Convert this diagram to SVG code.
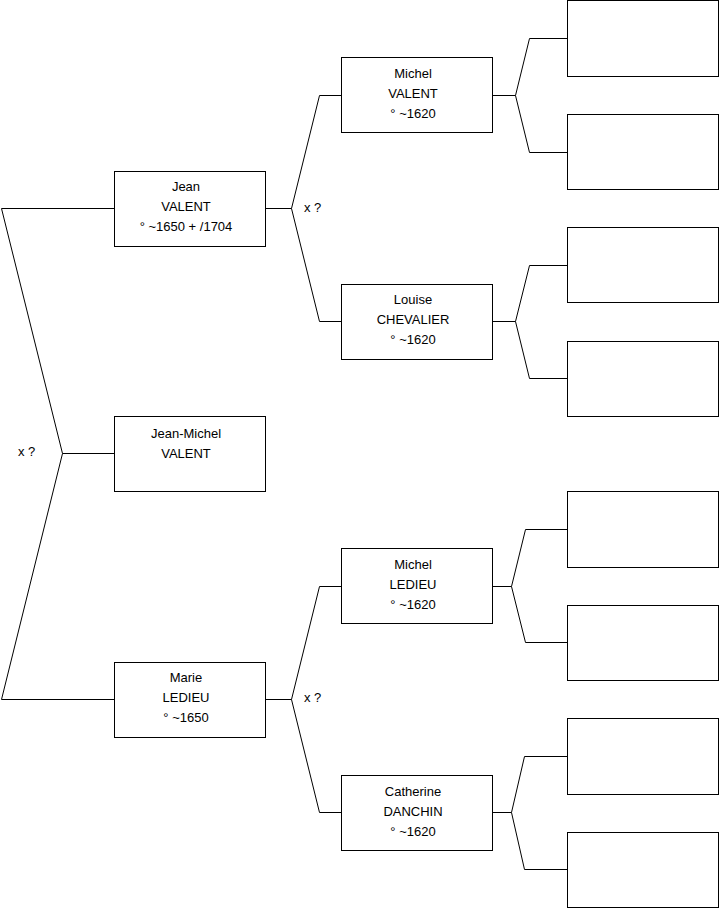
<svg xmlns="http://www.w3.org/2000/svg" width="719" height="908" viewBox="0 0 719 908">
<style>
.box{fill:#fff;stroke:#000;stroke-width:1}
.ln{fill:none;stroke:#000;stroke-width:1}
text{font-family:"Liberation Sans",Arial,sans-serif;font-size:13px;fill:#000}
.c{text-anchor:middle}
</style>
<rect width="719" height="908" fill="#fff"/>
<g id="connectors">
<path class="ln" d="M114.5,208.5 H1.5 L62.5,453.5 L1.5,699.5 H114.5 M62.5,453.5 H114.5"/>
<path class="ln" d="M265.5,208.5 H291.5 M341.5,95.5 H319.5 L291.5,208.5 L319.5,321.5 H341.5"/>
<path class="ln" d="M265.5,699.5 H291.5 M341.5,586.5 H319.5 L291.5,699.5 L319.5,812.5 H341.5"/>
<path class="ln" d="M492.5,95.5 H515.5 M567.5,38.5 H529.5 L515.5,95.5 L529.5,152.5 H567.5"/>
<path class="ln" d="M492.5,321.5 H515.5 M567.5,265.5 H529.5 L515.5,321.5 L529.5,378.5 H567.5"/>
<path class="ln" d="M492.5,586.5 H511.5 M567.5,529.5 H525.5 L511.5,586.5 L525.5,642.5 H567.5"/>
<path class="ln" d="M492.5,812.5 H511.5 M567.5,756.5 H524.5 L511.5,812.5 L524.5,869.5 H567.5"/>
<text x="18" y="456">x ?</text>
<text x="304" y="212">x ?</text>
<text x="304" y="702">x ?</text>
</g>
<g id="jean"><rect class="box" x="114.5" y="171.5" width="151" height="75"/>
<text class="c" x="186" y="191">Jean</text><text class="c" x="186" y="211">VALENT</text><text class="c" x="186" y="231">° ~1650 + /1704</text></g>
<g id="jean-michel"><rect class="box" x="114.5" y="416.5" width="151" height="75"/>
<text class="c" x="186" y="438">Jean-Michel</text><text class="c" x="186" y="458">VALENT</text></g>
<g id="marie"><rect class="box" x="114.5" y="662.5" width="151" height="75"/>
<text class="c" x="186" y="682">Marie</text><text class="c" x="186" y="702">LEDIEU</text><text class="c" x="186" y="722">° ~1650</text></g>
<g id="michel-valent"><rect class="box" x="341.5" y="57.5" width="151" height="75"/>
<text class="c" x="413" y="78">Michel</text><text class="c" x="413" y="98">VALENT</text><text class="c" x="413" y="118">° ~1620</text></g>
<g id="louise"><rect class="box" x="341.5" y="284.5" width="151" height="75"/>
<text class="c" x="413" y="304">Louise</text><text class="c" x="413" y="324">CHEVALIER</text><text class="c" x="413" y="344">° ~1620</text></g>
<g id="michel-ledieu"><rect class="box" x="341.5" y="548.5" width="151" height="75"/>
<text class="c" x="413" y="569">Michel</text><text class="c" x="413" y="589">LEDIEU</text><text class="c" x="413" y="609">° ~1620</text></g>
<g id="catherine"><rect class="box" x="341.5" y="775.5" width="151" height="75"/>
<text class="c" x="413" y="796">Catherine</text><text class="c" x="413" y="816">DANCHIN</text><text class="c" x="413" y="836">° ~1620</text></g>
<g id="g3-1"><rect class="box" x="567.5" y="0.5" width="151" height="76"/></g>
<g id="g3-2"><rect class="box" x="567.5" y="114.5" width="151" height="75"/></g>
<g id="g3-3"><rect class="box" x="567.5" y="227.5" width="151" height="75"/></g>
<g id="g3-4"><rect class="box" x="567.5" y="341.5" width="151" height="75"/></g>
<g id="g3-5"><rect class="box" x="567.5" y="491.5" width="151" height="76"/></g>
<g id="g3-6"><rect class="box" x="567.5" y="605.5" width="151" height="75"/></g>
<g id="g3-7"><rect class="box" x="567.5" y="718.5" width="151" height="76"/></g>
<g id="g3-8"><rect class="box" x="567.5" y="832.5" width="151" height="75"/></g>
</svg>
